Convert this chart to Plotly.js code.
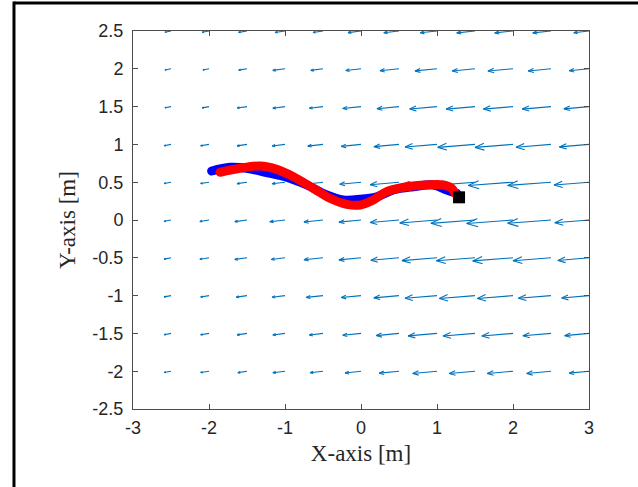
<!DOCTYPE html>
<html>
<head>
<meta charset="utf-8">
<script src="https://cdn.plot.ly/plotly-3.0.1.min.js"></script>
<style>
html,body{margin:0;padding:0;background:#fff;}
#chart{width:638px;height:487px;}
.scatterlayer .trace.traj path.js-line{stroke-linecap:round !important;stroke-linejoin:round !important;}
</style>
</head>
<body>
<div id="chart"></div>
<script>
// Quiver grid (tails of arrows)
const xGrid = [-2.5,-2,-1.5,-1,-0.5,0,0.5,1,1.5,2,2.5,3];
const yGrid = [2.5,2,1.5,1,0.5,0,-0.5,-1,-1.5,-2];
// Horizontal components (rows follow yGrid, columns follow xGrid)
const U = [
  [-0.08,-0.09,-0.11,-0.13,-0.13,-0.17,-0.20,-0.22,-0.24,-0.24,-0.24,-0.20],
  [-0.08,-0.08,-0.11,-0.16,-0.16,-0.20,-0.25,-0.29,-0.30,-0.33,-0.30,-0.26],
  [-0.08,-0.09,-0.13,-0.16,-0.18,-0.24,-0.29,-0.36,-0.38,-0.39,-0.38,-0.33],
  [-0.09,-0.11,-0.13,-0.17,-0.20,-0.26,-0.33,-0.42,-0.49,-0.50,-0.46,-0.39],
  [-0.09,-0.11,-0.13,-0.17,-0.20,-0.28,-0.38,-0.47,-0.55,-0.59,-0.57,-0.46],
  [-0.09,-0.12,-0.16,-0.20,-0.25,-0.29,-0.38,-0.49,-0.58,-0.61,-0.57,-0.45],
  [-0.09,-0.12,-0.16,-0.18,-0.25,-0.29,-0.37,-0.46,-0.51,-0.53,-0.50,-0.41],
  [-0.09,-0.11,-0.14,-0.17,-0.22,-0.26,-0.33,-0.42,-0.47,-0.47,-0.43,-0.36],
  [-0.09,-0.11,-0.13,-0.16,-0.18,-0.24,-0.30,-0.38,-0.42,-0.41,-0.37,-0.32],
  [-0.09,-0.11,-0.12,-0.16,-0.17,-0.21,-0.26,-0.32,-0.34,-0.34,-0.32,-0.26]
];
// Vertical components
const V = [
  [-0.016,-0.017,-0.018,-0.019,-0.019,-0.021,-0.023,-0.024,-0.025,-0.025,-0.025,-0.023],
  [-0.016,-0.016,-0.018,-0.021,-0.021,-0.023,-0.026,-0.028,-0.029,-0.030,-0.029,-0.026],
  [-0.016,-0.017,-0.019,-0.021,-0.022,-0.025,-0.028,-0.032,-0.033,-0.033,-0.033,-0.030],
  [-0.017,-0.018,-0.019,-0.021,-0.023,-0.026,-0.030,-0.035,-0.039,-0.040,-0.037,-0.033],
  [-0.017,-0.018,-0.019,-0.021,-0.023,-0.027,-0.033,-0.038,-0.042,-0.044,-0.043,-0.037],
  [-0.017,-0.019,-0.021,-0.023,-0.026,-0.028,-0.033,-0.039,-0.044,-0.046,-0.043,-0.037],
  [-0.017,-0.019,-0.021,-0.022,-0.026,-0.028,-0.032,-0.037,-0.040,-0.041,-0.040,-0.035],
  [-0.017,-0.018,-0.020,-0.021,-0.024,-0.026,-0.030,-0.035,-0.038,-0.038,-0.036,-0.032],
  [-0.017,-0.018,-0.019,-0.021,-0.022,-0.025,-0.029,-0.033,-0.035,-0.035,-0.032,-0.030],
  [-0.017,-0.018,-0.019,-0.021,-0.021,-0.024,-0.026,-0.030,-0.031,-0.031,-0.030,-0.026]
];
// Trajectories
const blueX = [-1.965,-1.724,-1.504,-1.241,-0.978,-0.714,-0.451,-0.233,-0.013,0.207,0.425,0.688,0.951,1.128,1.259];
const blueY = [0.648,0.697,0.684,0.626,0.565,0.463,0.331,0.265,0.274,0.308,0.397,0.440,0.463,0.397,0.353];
const redX = [-1.855,-1.592,-1.329,-1.109,-0.890,-0.628,-0.408,-0.188,-0.013,0.162,0.338,0.601,0.864,1.083,1.193,1.237];
const redY = [0.631,0.684,0.714,0.670,0.573,0.419,0.287,0.207,0.198,0.265,0.375,0.440,0.463,0.463,0.419,0.353];
const goalX = [1.29];
const goalY = [0.30];
// Tick labels
const xTickVals = [-3,-2,-1,0,1,2,3];
const xTickText = ['-3','-2','-1','0','1','2','3'];
const yTickVals = [-2.5,-2,-1.5,-1,-0.5,0,0.5,1,1.5,2,2.5];
const yTickText = ['-2.5','-2','-1.5','-1','-0.5','0','0.5','1','1.5','2','2.5'];

// Build quiver segments
const qx = [], qy = [];
for (let i = 0; i < yGrid.length; i++) {
  for (let j = 0; j < xGrid.length; j++) {
    const x0 = xGrid[j], y0 = yGrid[i], u = U[i][j], v = V[i][j];
    const x1 = x0 + u, y1 = y0 + v;
    const L = Math.sqrt(u*u + v*v);
    const ux = u / L, uy = v / L;
    const h = 0.24 * L, w = 0.09 * L;
    const bx = x1 - ux*h, by = y1 - uy*h;
    qx.push(x0, x1, null, bx - uy*w, x1, bx + uy*w, null);
    qy.push(y0, y1, null, by + ux*w, y1, by - ux*w, null);
  }
}

const axColor = '#4d4d4d';
const tickFont = {family: '"Liberation Sans", Arial, Helvetica, sans-serif', size: 18, color: '#262626'};
const titleFont = {family: '"Liberation Serif", "Times New Roman", serif', size: 23, color: '#262626'};

const data = [
  {x: qx, y: qy, mode: 'lines', type: 'scatter', line: {color: '#0072BD', width: 1.1}, hoverinfo: 'skip', showlegend: false},
  {x: blueX, y: blueY, mode: 'lines', type: 'scatter', line: {color: '#0000FF', width: 9, shape: 'spline'}, showlegend: false},
  {x: redX, y: redY, mode: 'lines', type: 'scatter', line: {color: '#FF0000', width: 9, shape: 'spline'}, showlegend: false},
  {x: goalX, y: goalY, mode: 'markers', type: 'scatter', marker: {symbol: 'square', size: 12, color: '#000000'}, showlegend: false}
];

const layout = {
  width: 638, height: 487,
  margin: {l: 133, r: 49, t: 31, b: 78, pad: 0},
  paper_bgcolor: '#ffffff', plot_bgcolor: '#ffffff',
  showlegend: false,
  xaxis: {
    range: [-3, 3], tickmode: 'array', tickvals: xTickVals, ticktext: xTickText,
    showgrid: false, zeroline: false, automargin: false,
    showline: true, linecolor: axColor, linewidth: 1, mirror: 'ticks',
    ticks: 'inside', ticklen: 5, tickcolor: axColor, tickfont: tickFont, ticklabelstandoff: 2,
    title: {text: 'X-axis [m]', font: titleFont, standoff: 8}
  },
  yaxis: {
    range: [-2.5, 2.5], tickmode: 'array', tickvals: yTickVals, ticktext: yTickText,
    showgrid: false, zeroline: false, automargin: false,
    showline: true, linecolor: axColor, linewidth: 1, mirror: 'ticks',
    ticks: 'inside', ticklen: 5, tickcolor: axColor, tickfont: tickFont, ticklabelstandoff: 5,
    title: {text: 'Y-axis [m]', font: titleFont, standoff: 10}
  },
  shapes: [
    {type: 'line', xref: 'paper', yref: 'paper', x0: -0.261, x1: 1.2, y0: 1.074, y1: 1.074, line: {color: '#000', width: 3}},
    {type: 'line', xref: 'paper', yref: 'paper', x0: -0.261, x1: -0.261, y0: 1.078, y1: -0.3, line: {color: '#000', width: 3}}
  ]
};

Plotly.newPlot('chart', data, layout, {staticPlot: true, displayModeBar: false}).then(function(gd){
  const traces = gd.querySelectorAll('.scatterlayer .trace');
  [1,2].forEach(function(k){ if (traces[k]) traces[k].classList.add('traj'); });
});
</script>
</body>
</html>
